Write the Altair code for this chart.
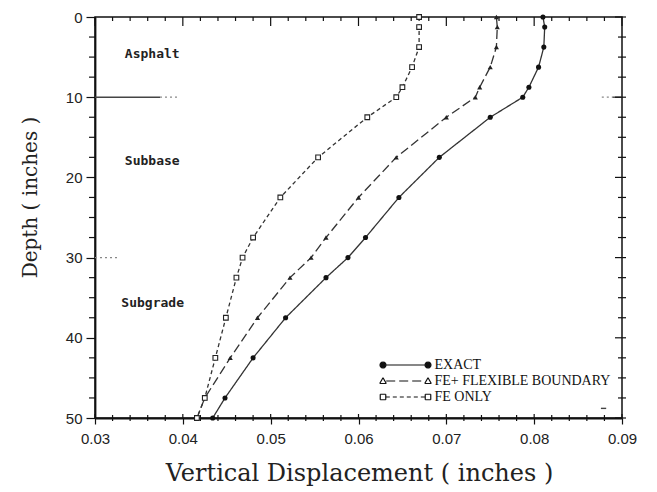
import math
import altair as alt
import pandas as pd

# ---------------- data ----------------
depth = [0, 1.25, 3.75, 6.25, 8.75, 10, 12.5, 17.5, 22.5, 27.5, 30, 32.5, 37.5, 42.5, 47.5, 50]
exact = [0.0810, 0.0812, 0.0811, 0.0805, 0.0794, 0.0787, 0.0750, 0.0692, 0.0646,
         0.0608, 0.0588, 0.0563, 0.0517, 0.0480, 0.0448, 0.0434]
fe_flex = [0.0757, 0.0758, 0.0757, 0.0750, 0.0738, 0.0733, 0.0700, 0.0643, 0.0600,
           0.0563, 0.0546, 0.0522, 0.0485, 0.0454, 0.0425, 0.0416]
fe_only = [0.0669, 0.0669, 0.0669, 0.0661, 0.0650, 0.0643, 0.0610, 0.0554, 0.0511,
           0.0480, 0.0468, 0.0461, 0.0449, 0.0437, 0.0425, 0.0416]
series_names = ["EXACT", "FE+ FLEXIBLE BOUNDARY", "FE ONLY"]

x_major = [0.03, 0.04, 0.05, 0.06, 0.07, 0.08, 0.09]
x_minor = [0.032, 0.034, 0.036, 0.038, 0.042, 0.044, 0.046, 0.048,
           0.052, 0.054, 0.056, 0.058, 0.062, 0.064, 0.066, 0.068,
           0.072, 0.074, 0.076, 0.078, 0.082, 0.084, 0.086, 0.088]
y_major = [0, 10, 20, 30, 40, 50]
y_minor = [2.5, 5, 7.5, 12.5, 15, 17.5, 22.5, 25, 27.5, 32.5, 35, 37.5,
           42.5, 45, 47.5]

layer_names = ["Asphalt", "Subbase", "Subgrade"]
layer_x = [0.0334, 0.0334, 0.0330]
layer_d = [4.6, 18.0, 35.6]

# layer-boundary marks
bnd_solid_x1 = [0.0300, 0.0889, 0.0876]
bnd_solid_x2 = [0.0374, 0.0900, 0.0882]
bnd_solid_d = [10, 10, 48.8]
bnd_dot_x1 = [0.0374, 0.0300, 0.0877]
bnd_dot_x2 = [0.0394, 0.0328, 0.0889]
bnd_dot_d = [10, 30, 10]

rows = []
for name, vals in zip(series_names, [exact, fe_flex, fe_only]):
    for d, v in zip(depth, vals):
        rows.append({"series": name, "depth": d, "disp": v})
df = pd.DataFrame(rows)

# ---------------- legend symbols (custom symbol paths) ----------------
SYM_SIZE = 282                      # legend symbol area -> compact legend rows
HALF = math.sqrt(SYM_SIZE) / 2      # pixels per symbol-path unit

def u(px):
    return f"{px / HALF:.3f}"

def disk(cx, r=3.0, n=12):
    pts = [(cx + r * math.cos(2 * math.pi * k / n), r * math.sin(2 * math.pi * k / n)) for k in range(n)]
    return "M" + "L".join(f"{u(px)},{u(py)}" for px, py in pts) + "Z"

def seg(a, b):
    return (f"M{u(a[0])},{u(a[1])}L{u(b[0])},{u(b[1])}"
            f"M{u(b[0])},{u(b[1])}L{u(a[0])},{u(a[1])}")

def tri_open(cx, h=3.3):
    a = (cx, -h); b = (cx + h, 2.5); c = (cx - h, 2.5)
    return seg(a, b) + seg(b, c) + seg(c, a)

def sq_open(cx, s=2.75):
    p = [(cx - s, -s), (cx + s, -s), (cx + s, s), (cx - s, s)]
    return seg(p[0], p[1]) + seg(p[1], p[2]) + seg(p[2], p[3]) + seg(p[3], p[0])

def hline(x0, x1):
    return f"M{u(x0)},0L{u(x1)},0"

legend_paths = [
    disk(-22.5) + disk(22.5) + hline(-19.5, 19.5),
    tri_open(-22.5) + tri_open(22.5) + hline(-19.3, 19.3),
    sq_open(-22.5) + sq_open(22.5) + hline(-19.7, 19.7),
]
shape_expr = (f"datum.value === '{series_names[0]}' ? '{legend_paths[0]}' : "
              f"datum.value === '{series_names[2]}' ? '{legend_paths[2]}' : '{legend_paths[1]}'")

# ---------------- axes ----------------
x_domain = [0.03, 0.09]

x_axis = alt.Axis(
    values=x_major, format=".2f",
    labelOverlap=False, labelFlush=False,
    labelFont="Liberation Sans", labelFontSize=15, labelColor="#222", labelPadding=7,
    tickSize=6, tickColor="#111", tickWidth=1.2,
    domainColor="#111", domainWidth=1.8, grid=False,
    title="Vertical Displacement ( inches )",
    titleFont="DejaVu Serif", titleFontSize=24, titleFontWeight="normal", titleColor="#222",
    titleX=264, titleY=62, titleBaseline="alphabetic", titleAlign="center",
)

y_axis = alt.Axis(
    values=y_major,
    labelOverlap=False, labelFlush=False,
    labelFont="Liberation Sans", labelFontSize=15, labelColor="#222", labelPadding=4,
    tickSize=9, tickColor="#111", tickWidth=1.2,
    domainColor="#111", domainWidth=1.8, grid=False,
    title="Depth ( inches )",
    titleFont="DejaVu Serif", titleFontSize=20, titleFontWeight="normal", titleColor="#222",
    titleX=-65, titleY=180, titleAlign="center", titleBaseline="middle", titleAngle=270,
)

x_scale = alt.Scale(domain=x_domain, nice=False, zero=False)
y_scale = alt.Scale(domain=[0, 50], reverse=True, nice=False, zero=False)

legend = alt.Legend(
    orient="none", legendX=301.5, legendY=339,
    symbolType=alt.ExprRef(expr=shape_expr),
    symbolSize=SYM_SIZE, symbolStrokeColor="#111", symbolFillColor="#111",
    symbolStrokeWidth=1.2, symbolOpacity=1,
    labelFont="Liberation Serif", labelFontSize=14, labelColor="#111",
    labelOffset=20, labelLimit=300, rowPadding=0, padding=0, offset=0,
)

base = alt.Chart(df)

lines = base.mark_line(color="#333", strokeWidth=1.3).encode(
    x=alt.X("disp:Q", scale=x_scale, axis=x_axis),
    y=alt.Y("depth:Q", scale=y_scale, axis=y_axis),
    detail="series:N", order="depth:Q",
    strokeDash=alt.StrokeDash("series:N",
                              scale=alt.Scale(domain=series_names, range=[[1, 0], [9, 4], [4, 3]]),
                              legend=legend, title=""),
)

pts_exact = base.transform_filter(alt.datum.series == "EXACT").mark_point(
    shape="circle", filled=True, color="#111", size=26, opacity=1
).encode(x="disp:Q", y="depth:Q")
pts_flex = base.transform_filter(alt.datum.series == "FE+ FLEXIBLE BOUNDARY").mark_point(
    shape="triangle-up", filled=True, color="#222", size=26, opacity=1
).encode(x="disp:Q", y="depth:Q")
pts_only = base.transform_filter(alt.datum.series == "FE ONLY").mark_point(
    shape="square", fill="white", stroke="#222", strokeWidth=1.1, size=22, opacity=1
).encode(x="disp:Q", y="depth:Q")

bnd_solid = alt.Chart(pd.DataFrame({"x1": bnd_solid_x1, "x2": bnd_solid_x2, "d": bnd_solid_d})).mark_rule(
    color="#444", strokeWidth=1.4
).encode(x="x1:Q", x2="x2:Q", y="d:Q")
bnd_dot = alt.Chart(pd.DataFrame({"x1": bnd_dot_x1, "x2": bnd_dot_x2, "d": bnd_dot_d})).mark_rule(
    color="#888", strokeWidth=1.3, strokeDash=[2, 3]
).encode(x="x1:Q", x2="x2:Q", y="d:Q")

labels = alt.Chart(pd.DataFrame({"name": layer_names, "x": layer_x, "d": layer_d})).mark_text(
    align="left", baseline="middle", font="DejaVu Sans Mono", fontSize=13, fontWeight="bold", color="#222"
).encode(x="x:Q", y="d:Q", text="name:N")

# tick marks on the top / right / bottom (inside) edges
tick_style = dict(color="#111", strokeWidth=1.2)
xmaj_df = pd.DataFrame({"v": x_major})
xmin_df = pd.DataFrame({"v": x_minor})
ymaj_df = pd.DataFrame({"v": y_major})
ymin_df = pd.DataFrame({"v": y_minor})
top_major = alt.Chart(xmaj_df).mark_rule(**tick_style).encode(x="v:Q", y=alt.value(0), y2=alt.value(9))
top_minor = alt.Chart(xmin_df).mark_rule(**tick_style).encode(x="v:Q", y=alt.value(0), y2=alt.value(4))
bot_major = alt.Chart(xmaj_df).mark_rule(**tick_style).encode(x="v:Q", y=alt.value(397), y2=alt.value(401))
bot_minor = alt.Chart(xmin_df).mark_rule(**tick_style).encode(x="v:Q", y=alt.value(398), y2=alt.value(404))
right_major = alt.Chart(ymaj_df).mark_rule(**tick_style).encode(y="v:Q", x=alt.value(520), x2=alt.value(531))
right_minor = alt.Chart(ymin_df).mark_rule(**tick_style).encode(y="v:Q", x=alt.value(523), x2=alt.value(531))
left_minor = alt.Chart(ymin_df).mark_rule(**tick_style).encode(y="v:Q", x=alt.value(-6), x2=alt.value(0))

chart = alt.layer(lines, bnd_solid, bnd_dot, top_major, top_minor, bot_major, bot_minor,
                  right_major, right_minor, left_minor,
                  pts_exact, pts_flex, pts_only, labels).properties(
    width=527, height=401,
    autosize=alt.AutoSizeParams(type="none"),
    padding={"left": 95, "top": 17, "right": 35, "bottom": 74},
    background="white",
).configure_view(stroke="#111", strokeWidth=1.5)

chart.save("out.html", embed_options={"renderer": "svg", "actions": False})
